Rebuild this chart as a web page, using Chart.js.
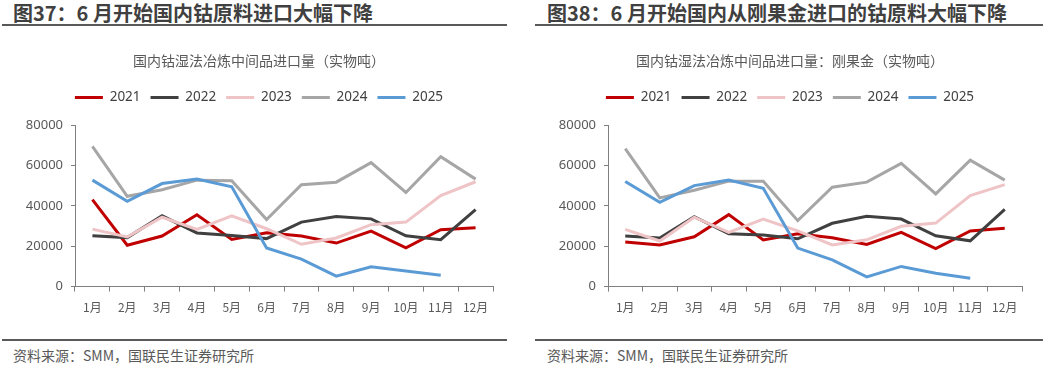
<!DOCTYPE html>
<html>
<head>
<meta charset="utf-8">
<script src="https://cdn.jsdelivr.net/npm/chart.js@4/dist/chart.umd.min.js"></script>
<style>
  body { margin: 0; background: #fff; width: 1043px; height: 368px; overflow: hidden;
         font-family: "Noto Sans CJK SC", "Noto Sans", sans-serif; }
  .panel { position: absolute; top: 0; height: 368px; }
  .title { position: absolute; top: 2px; left: 0; right: 0; height: 22px; line-height: 22px;
           border-bottom: 2px solid #595959; font-size: 20px; font-weight: bold; color: #404040;
           white-space: nowrap; }
  .chart { position: absolute; top: 30px; left: 0; right: 0; height: 300px; }
  .source { position: absolute; top: 339px; left: 0; right: 0; border-top: 2px solid #595959;
            font-size: 14px; color: #595959; padding-top: 4px; white-space: nowrap; }
</style>
</head>
<body>
<div class="panel" style="left:2px; width:505px;">
  <div class="title" style="padding-left:11px;">图37：6 月开始国内钴原料进口大幅下降</div>
  <div class="chart"><canvas id="chart37"></canvas></div>
  <div class="source" style="padding-left:11px;">资料来源：SMM，国联民生证券研究所</div>
</div>
<div class="panel" style="left:535px; width:508px;">
  <div class="title" style="padding-left:12px;">图38：6 月开始国内从刚果金进口的钴原料大幅下降</div>
  <div class="chart"><canvas id="chart38"></canvas></div>
  <div class="source" style="padding-left:12px;">资料来源：SMM，国联民生证券研究所</div>
</div>
<script>
// categories and series
const months = ['1月', '2月', '3月', '4月', '5月', '6月', '7月', '8月', '9月', '10月', '11月', '12月'];
const years = ['2021', '2022', '2023', '2024', '2025'];
const yTicks = [0, 20000, 40000, 60000, 80000];

// 图37: 国内钴湿法冶炼中间品进口量
const total2021 = [43100, 20500, 25100, 35600, 23400, 26700, 25100, 21600, 27500, 19200, 28200, 29200];
const total2022 = [25200, 24300, 35100, 26600, 25400, 23800, 32000, 34800, 33600, 25200, 23300, 38200];
const total2023 = [28500, 24600, 34400, 28400, 35100, 28700, 21000, 24100, 30700, 32000, 45100, 52000];
const total2024 = [69500, 44800, 48000, 52800, 52500, 33300, 50500, 51800, 61500, 46700, 64400, 53300];
const total2025 = [52800, 42300, 51100, 53300, 49500, 19200, 13600, 5200, 9800, 7700, 5600, null];

// 图38: 国内钴湿法冶炼中间品进口量：刚果金
const drc2021 = [22100, 20600, 24700, 35700, 23100, 26200, 24200, 20900, 26900, 18800, 27600, 28900];
const drc2022 = [25100, 24100, 34700, 26200, 25600, 23700, 31400, 34900, 33500, 25200, 22700, 38300];
const drc2023 = [28400, 22600, 34400, 26900, 33500, 27600, 20700, 23200, 29900, 31500, 45100, 50600];
const drc2024 = [68400, 44000, 47800, 52300, 52300, 32700, 49300, 51800, 61100, 46000, 62700, 52800];
const drc2025 = [52100, 41800, 50100, 52900, 48800, 19100, 13300, 4800, 10000, 6600, 4100, null];

const colors = ['#C00000', '#404040', '#EFC4C6', '#A6A6A6', '#5B9BD5'];

// extra space between legend and plot area
const legendGap = {
    id: 'legendGap',
    beforeInit(chart) {
        const fit = chart.legend.fit;
        chart.legend.fit = function () {
            fit.bind(chart.legend)();
            this.height += 11;
        };
    }
};

function makeChart(canvasId, subtitle, series, pad) {
    const ctx = document.getElementById(canvasId);
    return new Chart(ctx, {
        type: 'line',
        data: {
            labels: months,
            datasets: series.map((data, i) => ({
                label: years[i],
                data: data,
                borderColor: colors[i],
                backgroundColor: colors[i],
                borderWidth: 3,
                pointRadius: 0,
                tension: 0,
                order: series.length - i
            }))
        },
        plugins: [legendGap],
        options: {
            responsive: true,
            maintainAspectRatio: false,
            animation: false,
            layout: { padding: pad },
            plugins: {
                title: {
                    display: true,
                    text: subtitle,
                    color: '#595959',
                    font: { size: 14, family: '"Noto Sans CJK SC", sans-serif', weight: 'normal' },
                    padding: { top: 22, bottom: 12 }
                },
                legend: {
                    position: 'top',
                    labels: {
                        boxWidth: 28,
                        boxHeight: 3,
                        padding: 10,
                        color: '#404040',
                        font: { size: 13.5, family: '"Noto Sans", sans-serif' },
                        sort: (a, b) => a.datasetIndex - b.datasetIndex,
                        generateLabels: chart => Chart.defaults.plugins.legend.labels.generateLabels(chart)
                            .map(item => Object.assign(item, { lineWidth: 0, strokeStyle: 'rgba(0,0,0,0)' }))
                    }
                },
                tooltip: { enabled: false }
            },
            scales: {
                x: {
                    offset: true,
                    grid: { offset: true, drawOnChartArea: false, tickLength: 5, color: '#7F7F7F', tickColor: '#7F7F7F' },
                    border: { color: '#7F7F7F', width: 1 },
                    ticks: { color: '#595959', padding: 9, maxRotation: 0, autoSkip: false,
                             font: { size: 12, family: '"Noto Sans CJK SC", sans-serif' } }
                },
                y: {
                    min: 0,
                    max: 80000,
                    afterBuildTicks: scale => { scale.ticks = yTicks.map(v => ({ value: v })); },
                    afterFit: scale => { scale.width = 50; },
                    grid: { drawOnChartArea: false, tickLength: 4, color: '#7F7F7F', tickColor: '#7F7F7F' },
                    border: { color: '#7F7F7F', width: 1 },
                    ticks: { color: '#595959', padding: 8, callback: v => String(v),
                             font: { size: 13, family: '"Noto Sans", sans-serif' } }
                }
            }
        }
    });
}

makeChart('chart37', '国内钴湿法冶炼中间品进口量（实物吨）',
    [total2021, total2022, total2023, total2024, total2025],
    { left: 23, right: 14, bottom: 6 });
makeChart('chart38', '国内钴湿法冶炼中间品进口量：刚果金（实物吨）',
    [drc2021, drc2022, drc2023, drc2024, drc2025],
    { left: 23, right: 21, bottom: 6 });
</script>
</body>
</html>
